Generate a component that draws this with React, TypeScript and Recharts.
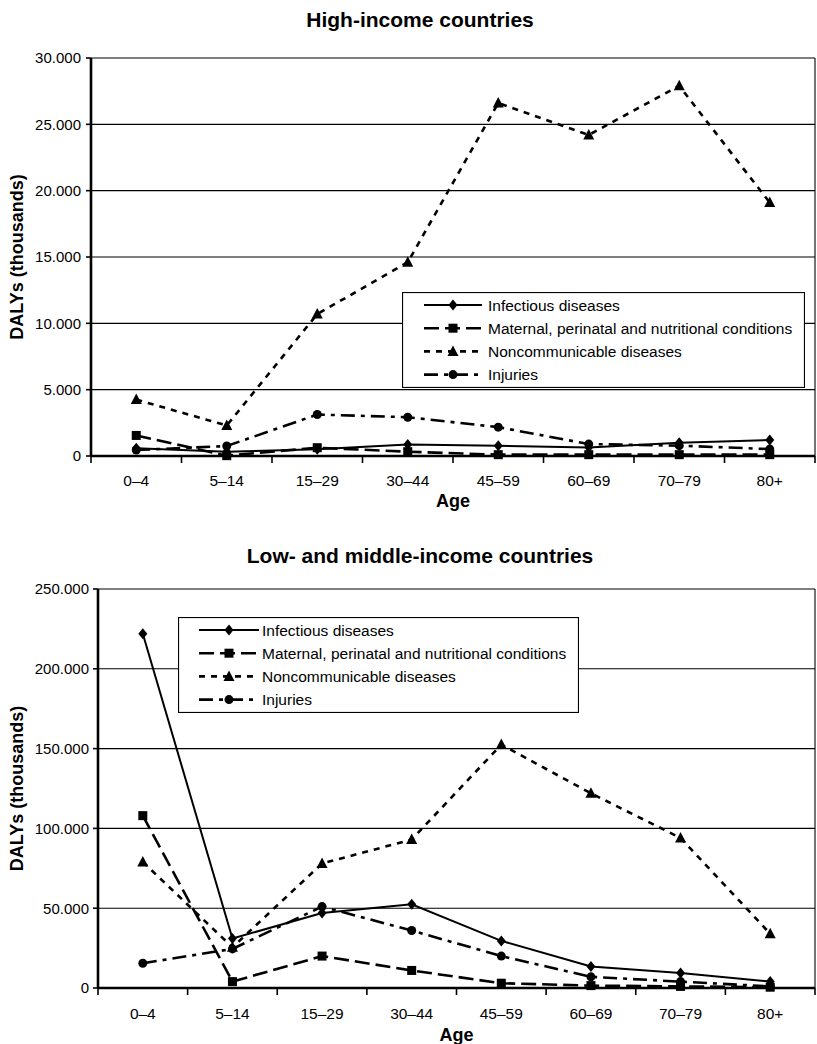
import React from 'react';
import { LineChart, Line, XAxis, YAxis, CartesianGrid, Legend } from 'recharts';

const ageGroups = ['0–4', '5–14', '15–29', '30–44', '45–59', '60–69', '70–79', '80+'];

const highInfectious = [575, 325, 500, 875, 775, 650, 1000, 1200];
const highMaternal = [1550, 25, 625, 325, 100, 100, 100, 100];
const highNoncommunicable = [4250, 2300, 10700, 14600, 26600, 24200, 27900, 19100];
const highInjuries = [450, 750, 3125, 2925, 2175, 900, 780, 520];

const lowInfectious = [222000, 31000, 47000, 52500, 29500, 13500, 9400, 4000];
const lowMaternal = [108000, 4000, 20000, 11000, 3000, 1500, 1000, 500];
const lowNoncommunicable = [79000, 25500, 78000, 93000, 152500, 122000, 94000, 34000];
const lowInjuries = [15500, 24500, 51000, 36000, 20000, 7000, 4000, 1000];

const highTicks = [0, 5000, 10000, 15000, 20000, 25000, 30000];
const lowTicks = [0, 50000, 100000, 150000, 200000, 250000];

const seriesKeys = ['infectious', 'maternal', 'noncommunicable', 'injuries'];
const seriesNames = [
  'Infectious diseases',
  'Maternal, perinatal and nutritional conditions',
  'Noncommunicable diseases',
  'Injuries',
];

const titles = ['High-income countries', 'Low- and middle-income countries'];
const yAxisTitle = 'DALYs (thousands)';
const xAxisTitle = 'Age';

const FONT = '"Liberation Sans", Arial, Helvetica, sans-serif';

const styles = [
  { dash: undefined as string | undefined, width: 2, marker: 'diamond' },
  { dash: '15 6', width: 2.6, marker: 'square' },
  { dash: '6 6', width: 2.6, marker: 'triangle' },
  { dash: '14 6 4 6', width: 2.6, marker: 'circle' },
];

const buildData = (a: number[], b: number[], c: number[], d: number[]) =>
  ageGroups.map((age, i) => ({
    age,
    infectious: a[i],
    maternal: b[i],
    noncommunicable: c[i],
    injuries: d[i],
  }));

const highData = buildData(highInfectious, highMaternal, highNoncommunicable, highInjuries);
const lowData = buildData(lowInfectious, lowMaternal, lowNoncommunicable, lowInjuries);

const fmt = (v: number) => {
  if (v === 0) return '0';
  const th = Math.floor(v / 1000);
  const rest = String(v % 1000).padStart(3, '0');
  return `${th}.${rest}`;
};

const Marker = ({ cx, cy, type }: { cx?: number; cy?: number; type: string }) => {
  if (cx == null || cy == null || isNaN(cx) || isNaN(cy)) return null;
  switch (type) {
    case 'diamond':
      return <polygon points={`${cx},${cy - 5.5} ${cx + 4.5},${cy} ${cx},${cy + 5.5} ${cx - 4.5},${cy}`} fill="#000" />;
    case 'square':
      return <rect x={cx - 4.5} y={cy - 4.5} width={9} height={9} fill="#000" />;
    case 'triangle':
      return <polygon points={`${cx},${cy - 6} ${cx + 5.5},${cy + 4.5} ${cx - 5.5},${cy + 4.5}`} fill="#000" />;
    case 'circle':
      return <circle cx={cx} cy={cy} r={4.5} fill="#000" />;
    default:
      return null;
  }
};

const makeXTick = (bandWidth: number, labelDy: number) => (props: any) => {
  const { x, y, payload, index } = props;
  const last = index === ageGroups.length - 1;
  return (
    <g>
      <line x1={x - bandWidth / 2} x2={x - bandWidth / 2} y1={y} y2={y + 7} stroke="#000" strokeWidth={1.6} />
      {last && <line x1={x + bandWidth / 2} x2={x + bandWidth / 2} y1={y} y2={y + 7} stroke="#000" strokeWidth={1.6} />}
      <text x={x} y={y + labelDy} textAnchor="middle" fontSize={15.5} fontFamily={FONT} fill="#000">
        {payload.value}
      </text>
    </g>
  );
};

const makeLegend = (w: number, h: number, lineStart: number, lineEnd: number, textX: number) => () => (
  <svg width={w} height={h} style={{ display: 'block' }}>
    <rect x={0.5} y={0.5} width={w - 1} height={h - 1} fill="#fff" stroke="#000" strokeWidth={1.2} />
    {seriesNames.map((name, i) => {
      const cy = 13 + i * 23.2;
      const st = styles[i];
      return (
        <g key={name}>
          <line x1={lineStart} x2={lineEnd} y1={cy} y2={cy} stroke="#000" strokeWidth={st.width} strokeDasharray={st.dash} />
          <Marker cx={(lineStart + lineEnd) / 2} cy={cy} type={st.marker} />
          <text x={textX} y={cy} dominantBaseline="central" fontSize={15.5} fontFamily={FONT} fill="#000">
            {name}
          </text>
        </g>
      );
    })}
  </svg>
);

type PanelProps = {
  data: any[];
  height: number;
  top: number;
  left: number;
  bottom: number;
  domainMax: number;
  ticks: number[];
  tickMargin: number;
  xLabelDy: number;
  ageDy: number;
  legendPos: { left: number; top: number; width: number; height: number };
  legendLine: [number, number, number];
};

const Panel = (p: PanelProps) => {
  const plotRight = 815;
  const bandWidth = (plotRight - p.left) / ageGroups.length;
  const xAxisHeight = 40;
  return (
    <LineChart
      width={817}
      height={p.height}
      data={p.data}
      margin={{ top: p.top, right: 817 - plotRight, left: 0, bottom: p.height - p.bottom - xAxisHeight }}
    >
      <CartesianGrid
        stroke="#000"
        strokeWidth={1.1}
        horizontal={true}
        vertical={true}
        verticalCoordinatesGenerator={({ offset }: any) => [offset.left + offset.width]}
      />
      <XAxis
        dataKey="age"
        scale="band"
        height={xAxisHeight}
        tickLine={false}
        tickSize={0}
        tickMargin={0}
        interval={0}
        axisLine={{ stroke: '#000', strokeWidth: 2.6 }}
        tick={makeXTick(bandWidth, p.xLabelDy)}
        label={{
          content: ({ viewBox }: any) => (
            <text
              x={viewBox.x + viewBox.width / 2}
              y={viewBox.y + p.ageDy}
              textAnchor="middle"
              fontSize={18}
              fontWeight="bold"
              fontFamily={FONT}
              fill="#000"
            >
              {xAxisTitle}
            </text>
          ),
        }}
      />
      <YAxis
        type="number"
        domain={[0, p.domainMax]}
        ticks={p.ticks}
        interval={0}
        width={p.left}
        tickSize={5}
        tickMargin={p.tickMargin}
        tickFormatter={fmt}
        axisLine={{ stroke: '#000', strokeWidth: 2.6 }}
        tickLine={{ stroke: '#000', strokeWidth: 1.6 }}
        tick={{ fill: '#000', fontSize: 15, fontFamily: FONT }}
        label={{
          content: ({ viewBox }: any) => {
            const cy = viewBox.y + viewBox.height / 2;
            return (
              <text
                x={17}
                y={cy}
                transform={`rotate(-90, 17, ${cy})`}
                textAnchor="middle"
                dominantBaseline="central"
                fontSize={18}
                fontWeight="bold"
                fontFamily={FONT}
                fill="#000"
              >
                {yAxisTitle}
              </text>
            );
          },
        }}
      />
      <Legend
        layout="vertical"
        align="center"
        verticalAlign="middle"
        wrapperStyle={{ ...p.legendPos }}
        content={makeLegend(p.legendPos.width, p.legendPos.height, p.legendLine[0], p.legendLine[1], p.legendLine[2])}
      />
      {seriesKeys.map((k, i) => (
        <Line
          key={k}
          dataKey={k}
          name={seriesNames[i]}
          stroke="#000"
          strokeWidth={styles[i].width}
          strokeDasharray={styles[i].dash}
          isAnimationActive={false}
          activeDot={false}
          dot={(d: any) => (
            <g key={`${k}-${d.index}`}>
              <Marker cx={d.cx} cy={d.cy} type={styles[i].marker} />
            </g>
          )}
        />
      ))}
    </LineChart>
  );
};

export default function App() {
  return (
    <div style={{ position: 'absolute', left: 0, top: 0, width: 817, height: 1044, background: '#fff', overflow: 'hidden' }}>
      <div style={{ position: 'absolute', left: 0, top: 0 }}>
        <Panel
          data={highData}
          height={520}
          top={58}
          left={91}
          bottom={456}
          domainMax={30000}
          ticks={highTicks}
          tickMargin={5}
          xLabelDy={30}
          ageDy={51}
          legendPos={{ left: 402, top: 292, width: 403, height: 96 }}
          legendLine={[22, 80, 86]}
        />
      </div>
      <div style={{ position: 'absolute', left: 0, top: 520 }}>
        <Panel
          data={lowData}
          height={524}
          top={69}
          left={98}
          bottom={468}
          domainMax={250000}
          ticks={lowTicks}
          tickMargin={4}
          xLabelDy={31}
          ageDy={53}
          legendPos={{ left: 178, top: 97, width: 401, height: 96 }}
          legendLine={[21, 81, 84]}
        />
      </div>
      <svg width={817} height={1044} style={{ position: 'absolute', left: 0, top: 0, pointerEvents: 'none' }}>
        <text x={420} y={27} textAnchor="middle" fontSize={21} fontWeight="bold" fontFamily={FONT} fill="#000">
          {titles[0]}
        </text>
        <text x={420} y={563} textAnchor="middle" fontSize={21} fontWeight="bold" fontFamily={FONT} fill="#000">
          {titles[1]}
        </text>
      </svg>
    </div>
  );
}
